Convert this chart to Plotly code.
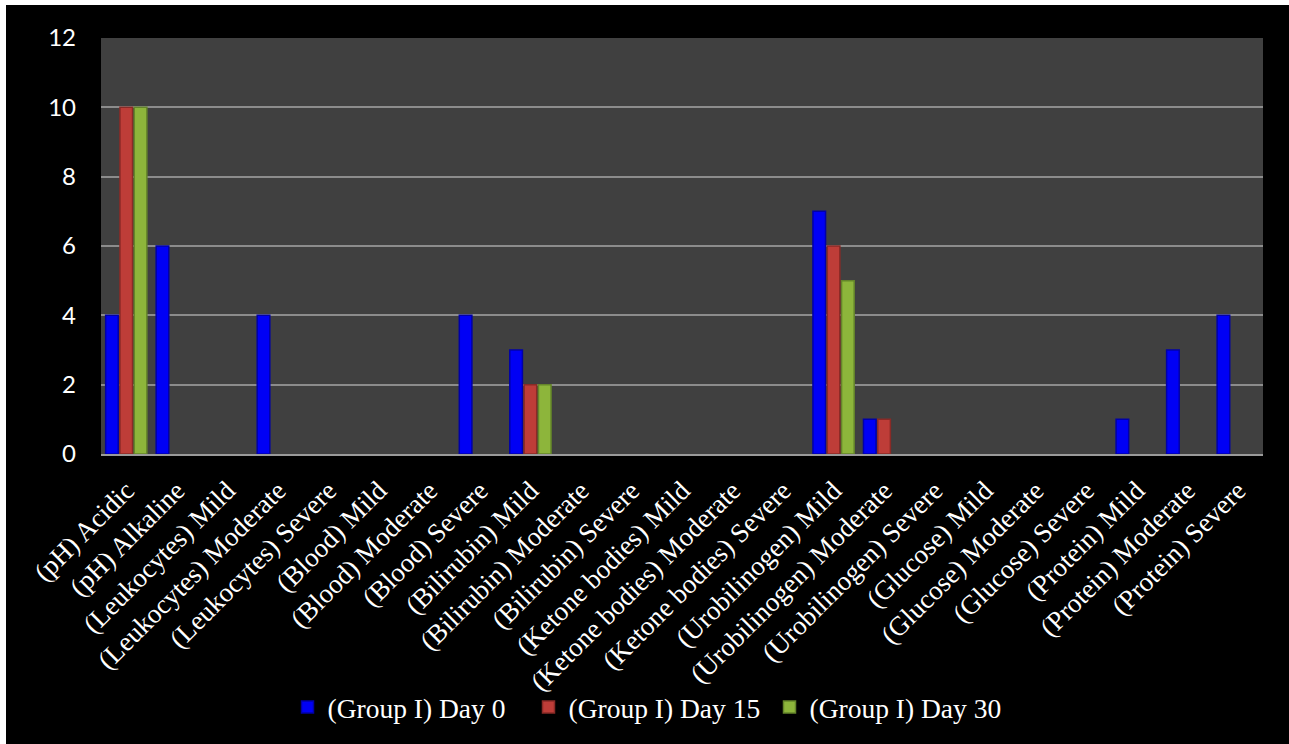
import plotly.graph_objects as go

categories = [
    "(pH) Acidic", "(pH) Alkaline",
    "(Leukocytes) Mild", "(Leukocytes) Moderate", "(Leukocytes) Severe",
    "(Blood) Mild", "(Blood) Moderate", "(Blood) Severe",
    "(Bilirubin) Mild", "(Bilirubin) Moderate", "(Bilirubin) Severe",
    "(Ketone bodies) Mild", "(Ketone bodies) Moderate", "(Ketone bodies) Severe",
    "(Urobilinogen) Mild", "(Urobilinogen) Moderate", "(Urobilinogen) Severe",
    "(Glucose) Mild", "(Glucose) Moderate", "(Glucose) Severe",
    "(Protein) Mild", "(Protein) Moderate", "(Protein) Severe",
]
day0 = [4, 6, 0, 4, 0, 0, 0, 4, 3, 0, 0, 0, 0, 0, 7, 1, 0, 0, 0, 0, 1, 3, 4]
day15 = [10, 0, 0, 0, 0, 0, 0, 0, 2, 0, 0, 0, 0, 0, 6, 1, 0, 0, 0, 0, 0, 0, 0]
day30 = [10, 0, 0, 0, 0, 0, 0, 0, 2, 0, 0, 0, 0, 0, 5, 0, 0, 0, 0, 0, 0, 0, 0]
series_names = ["(Group I) Day 0", "(Group I) Day 15", "(Group I) Day 30"]
y_ticks = [0, 2, 4, 6, 8, 10, 12]

fills = ["#0000F5", "#BE3D38", "#8DB53B"]
edges = ["#0000A8", "#8A2A26", "#64852A"]

W, H = 1289, 744
L, R, T, B = 101, 1263, 38, 454
pw, ph = R - L, B - T

fig = go.Figure()
for name, vals, fc, ec in zip(series_names, [day0, day15, day30], fills, edges):
    fig.add_trace(go.Bar(
        x=categories, y=[v if v else None for v in vals], name=name,
        marker=dict(color=fc, line=dict(color=ec, width=1.5)),
    ))

# black page over a white edge strip (top/left), then the grey plot area
fig.add_shape(type="rect", xref="paper", yref="paper",
              x0=(6 - L) / pw, x1=(W + 5 - L) / pw,
              y0=(B - (H + 5)) / ph, y1=(B - 5) / ph,
              fillcolor="black", line=dict(width=0), layer="below")
fig.add_shape(type="rect", xref="paper", yref="paper",
              x0=0, x1=1, y0=0, y1=1,
              fillcolor="#404040", line=dict(width=0), layer="below")

fig.update_layout(
    width=W, height=H,
    margin=dict(l=L, r=W - R, t=T, b=H - B, autoexpand=False),
    paper_bgcolor="white",
    plot_bgcolor="rgba(0,0,0,0)",
    barmode="group",
    bargap=0.15,
    bargroupgap=0.12,
    showlegend=True,
    legend=dict(
        orientation="h", x=(649 - L) / pw, xanchor="center",
        y=(B - 707) / ph, yanchor="middle",
        font=dict(family="Liberation Serif", size=27.5, color="white"),
        bgcolor="rgba(0,0,0,0)",
        entrywidth=196, entrywidthmode="pixels",
    ),
    xaxis=dict(
        type="category", tickangle=-45,
        tickfont=dict(family="Liberation Serif", size=27, color="white"),
        showgrid=False, showline=True, linecolor="#9a9a9a", linewidth=2,
        ticks="", automargin=False, ticklabelstandoff=8,
    ),
    yaxis=dict(
        range=[0, 12], tickvals=y_ticks, ticktext=[str(v) for v in y_ticks],
        tickfont=dict(family="Lato", size=24, color="white"),
        showgrid=True, gridcolor="#8c8c8c", gridwidth=1.5,
        zeroline=False, showline=False, ticks="",
        ticklabelstandoff=24, automargin=False,
    ),
)

fig.write_html("out.html")
